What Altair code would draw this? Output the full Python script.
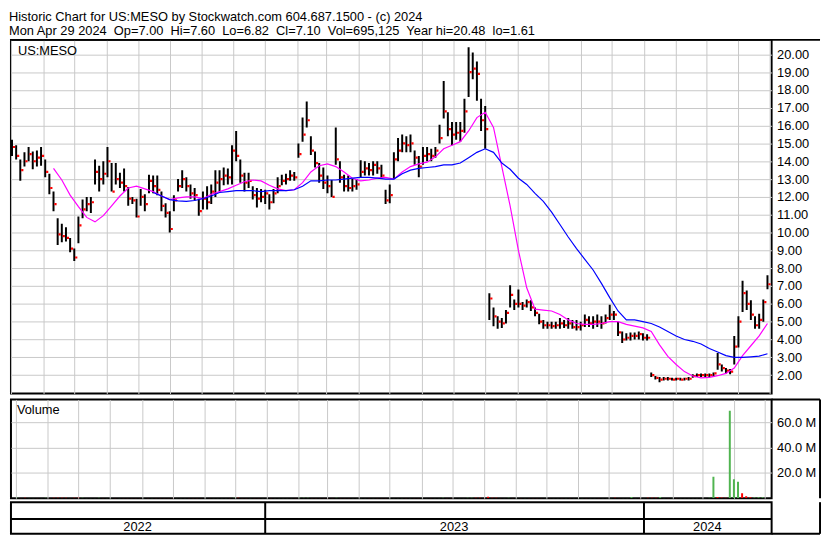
import altair as alt
import pandas as pd

# ---------------- data ----------------
TITLE_1 = "Historic Chart for US:MESO by Stockwatch.com 604.687.1500 - (c) 2024"
TITLE_2 = ("Mon Apr 29 2024\u00a0 Op=7.00\u00a0 Hi=7.60\u00a0 Lo=6.82\u00a0 Cl=7.10\u00a0 "
           "Vol=695,125\u00a0 Year hi=20.48\u00a0 lo=1.61")
SYMBOL = "US:MESO"

BAR_START = "2022-05-02"
BAR_STEP_DAYS = 4

HIGH = [15.2, 14.9, 14.1, 14.5, 14.8, 14.55, 14.6, 14.8, 14.1, 13.3,
        12.3, 10.8, 10.5, 10.3, 9.7, 9.1, 10.9, 11.85, 12.0, 12.0,
        14.1, 13.75, 14.0, 14.8, 13.9, 13.9, 13.35, 13.6, 12.55, 12.0,
        11.9, 12.45, 12.15, 13.25, 13.2, 13.2, 12.3, 11.65, 11.2, 12.1,
        13.0, 13.5, 13.1, 12.7, 12.5, 11.9, 12.3, 12.6, 12.7, 13.5,
        13.5, 13.65, 13.6, 14.9, 15.7, 14.1, 13.35, 13.35, 12.6, 12.5,
        12.45, 12.4, 12.15, 12.45, 13.1, 13.25, 13.3, 13.5, 13.4, 15.0,
        16.45, 17.35, 15.4, 14.55, 13.9, 13.65, 13.2, 12.95, 15.9, 14.0,
        13.25, 13.2, 13.0, 13.0, 14.05, 14.0, 13.9, 14.0, 14.0, 13.8,
        12.4, 12.7, 14.5, 15.3, 15.5, 15.4, 15.5, 14.6, 14.3, 14.8,
        14.8, 14.7, 14.8, 16.05, 18.5, 16.75, 16.2, 16.2, 16.2, 17.5,
        20.4, 20.1, 19.6, 17.5, 17.1, 6.6, 5.8, 5.3, 5.2, 5.65,
        7.05, 6.25, 6.8, 6.1, 6.25, 6.2, 5.8, 5.45, 5.1, 5.0,
        5.0, 5.0, 5.2, 5.1, 5.2, 5.1, 5.1, 5.0, 5.4, 5.3,
        5.3, 5.4, 5.3, 5.4, 5.95, 5.6, 5.0, 4.45, 4.35, 4.4,
        4.4, 4.45, 4.35, 4.3, 2.15, 1.95, 1.9, 1.9, 1.9, 1.85,
        1.85, 1.85, 1.85, 1.9, 2.05, 2.1, 2.1, 2.1, 2.1, 2.15,
        3.25, 2.6, 2.4, 2.35, 4.2, 5.3, 7.3, 6.75, 6.2, 5.3,
        5.45, 6.25, 7.6]

LOW = [14.3, 14.1, 12.9, 13.7, 14.0, 13.55, 13.7, 13.75, 13.1, 12.15,
       11.2, 9.3, 9.45, 9.5, 8.9, 8.4, 9.4, 10.8, 11.2, 11.1,
       12.7, 12.3, 12.7, 13.1, 12.3, 12.7, 12.5, 12.3, 11.5, 11.6,
       10.85, 11.5, 11.2, 12.2, 12.2, 12.1, 11.2, 10.85, 10.0, 11.2,
       12.3, 12.5, 12.3, 11.9, 11.8, 10.95, 11.3, 11.3, 11.6, 12.0,
       12.3, 12.65, 12.7, 12.7, 14.0, 12.8, 12.3, 12.5, 11.85, 11.4,
       11.7, 11.6, 11.3, 11.65, 12.2, 12.65, 12.7, 12.9, 12.9, 14.2,
       15.1, 15.9, 14.35, 13.65, 12.8, 12.45, 12.2, 12.0, 13.8, 12.8,
       12.3, 12.3, 12.3, 12.4, 13.1, 13.2, 13.2, 13.2, 13.3, 13.0,
       11.6, 11.65, 13.0, 14.0, 14.5, 14.5, 14.5, 13.8, 13.1, 13.8,
       14.0, 14.0, 14.2, 15.0, 16.4, 15.4, 14.9, 15.2, 15.1, 15.6,
       17.6, 18.6, 17.4, 15.7, 14.7, 5.1, 4.75, 4.6, 4.65, 4.9,
       5.8, 5.65, 5.8, 5.65, 5.8, 5.6, 5.3, 4.85, 4.6, 4.6,
       4.6, 4.6, 4.6, 4.65, 4.6, 4.6, 4.5, 4.5, 4.7, 4.7,
       4.6, 4.7, 4.6, 4.9, 5.1, 5.1, 4.2, 3.8, 3.95, 3.95,
       4.0, 4.0, 3.95, 3.95, 1.9, 1.75, 1.6, 1.7, 1.7, 1.7,
       1.7, 1.7, 1.7, 1.7, 1.85, 1.9, 1.9, 1.9, 1.9, 1.9,
       2.3, 2.2, 2.1, 2.05, 2.6, 3.55, 5.55, 5.65, 5.1, 4.6,
       4.6, 5.0, 6.82]

CLOSE = [14.8, 14.3, 13.5, 14.0, 14.4, 14.0, 14.2, 14.3, 13.4, 12.5,
         11.6, 9.9, 9.8, 9.7, 9.1, 8.6, 10.4, 11.3, 11.6, 11.7,
         13.4, 13.0, 13.3, 14.0, 12.3, 13.0, 12.8, 12.6, 11.9, 11.8,
         10.9, 12.0, 11.6, 12.9, 12.6, 12.4, 11.5, 11.1, 10.2, 11.8,
         12.6, 13.0, 12.6, 12.2, 12.1, 11.2, 11.9, 11.7, 12.3, 12.8,
         13.0, 13.2, 13.1, 14.6, 14.3, 13.2, 12.8, 12.9, 12.1, 11.9,
         12.0, 12.2, 11.7, 12.2, 12.6, 12.9, 13.0, 13.2, 13.1, 14.4,
         15.5, 16.3, 14.6, 13.9, 13.2, 12.8, 12.6, 12.0, 14.1, 13.1,
         12.6, 12.5, 12.6, 12.7, 13.4, 13.6, 13.5, 13.8, 13.6, 13.2,
         11.8, 12.1, 14.1, 14.6, 15.0, 14.9, 15.0, 14.2, 13.7, 14.3,
         14.4, 14.3, 14.6, 15.3, 16.8, 15.8, 15.5, 15.6, 15.7, 16.8,
         19.0, 19.2, 18.9, 16.3, 15.8, 6.3, 5.3, 5.0, 4.9, 5.5,
         6.5, 6.0, 6.0, 5.9, 6.1, 5.8, 5.5, 5.0, 4.8, 4.8,
         4.75, 4.8, 4.9, 4.8, 4.9, 4.7, 4.7, 4.8, 5.1, 4.9,
         5.0, 5.0, 4.9, 5.2, 5.4, 5.4, 4.4, 4.0, 4.1, 4.2,
         4.2, 4.3, 4.1, 4.1, 2.0, 1.85, 1.75, 1.8, 1.8, 1.75,
         1.8, 1.75, 1.8, 1.8, 1.95, 2.0, 2.0, 2.0, 2.0, 2.1,
         2.6, 2.4, 2.25, 2.2, 3.6, 5.0, 6.6, 6.0, 5.4, 4.8,
         5.1, 6.1, 7.1]

VOLUME_M = [0.3, 0.25, 0.3, 0.2, 0.25, 0.2, 0.2, 0.3, 0.25, 0.35,
            0.4, 0.45, 0.3, 0.25, 0.3, 0.35, 0.3, 0.25, 0.2, 0.2,
            0.3, 0.25, 0.2, 0.25, 0.2, 0.2, 0.15, 0.2, 0.2, 0.15,
            0.2, 0.2, 0.15, 0.2, 0.15, 0.15, 0.2, 0.15, 0.25, 0.2,
            0.15, 0.2, 0.15, 0.15, 0.15, 0.2, 0.15, 0.15, 0.15, 0.2,
            0.15, 0.2, 0.15, 0.3, 0.35, 0.2, 0.15, 0.15, 0.15, 0.15,
            0.15, 0.15, 0.15, 0.15, 0.15, 0.15, 0.15, 0.15, 0.15, 0.3,
            0.35, 0.4, 0.25, 0.2, 0.15, 0.15, 0.15, 0.15, 0.3, 0.2,
            0.15, 0.15, 0.15, 0.15, 0.2, 0.15, 0.15, 0.15, 0.15, 0.15,
            0.2, 0.15, 0.25, 0.2, 0.2, 0.15, 0.15, 0.15, 0.15, 0.15,
            0.15, 0.15, 0.15, 0.2, 0.35, 0.25, 0.2, 0.15, 0.15, 0.25,
            0.4, 0.3, 0.3, 0.3, 0.25, 1.2, 0.4, 0.3, 0.25, 0.25,
            0.3, 0.2, 0.2, 0.15, 0.15, 0.15, 0.15, 0.15, 0.15, 0.1,
            0.1, 0.1, 0.1, 0.1, 0.1, 0.1, 0.1, 0.1, 0.15, 0.1,
            0.1, 0.1, 0.1, 0.1, 0.15, 0.1, 0.3, 0.2, 0.15, 0.15,
            1.0, 0.15, 0.15, 0.15, 0.4, 0.3, 0.3, 1.0, 0.2, 0.15,
            0.15, 0.15, 0.15, 0.15, 0.2, 0.2, 0.15, 0.2, 0.2, 0.3,
            17.0, 1.0, 0.5, 0.4, 69.0, 15.0, 13.0, 4.0, 1.5, 0.8,
            0.6, 0.8, 0.7]

# moving averages, read every second bar
MA_STEP = 2
MA_FAST_FIRST = 10
MA_FAST = [13.6, 12.95, 12.1, 11.45, 10.85, 10.6, 10.95, 11.5, 12.05, 12.5,
           12.6, 12.45, 12.3, 12.05, 11.85, 11.95, 12.0, 12.0, 11.9, 12.15,
           12.3, 12.45, 12.65, 12.85, 12.95, 12.9, 12.65, 12.45, 12.35, 12.4,
           12.8, 13.4, 13.75, 13.85, 13.7, 13.4, 13.05, 12.9, 12.95, 13.05,
           13.1, 13.0, 13.4, 13.7, 13.85, 13.95, 14.25, 14.7, 14.9, 15.1,
           15.7, 16.45, 16.75, 15.9, 13.7, 11.5, 9.0, 6.9, 5.7, 5.65,
           5.6, 5.4, 5.1, 4.9, 4.85, 4.85, 4.9, 5.0, 5.0, 4.85,
           4.75, 4.65, 4.45, 3.7, 3.05, 2.6, 2.2, 1.95, 1.85, 1.88,
           1.97, 2.1, 2.4, 3.1, 3.65, 4.2, 4.9]
MA_SLOW_FIRST = 34
MA_SLOW = [12.25, 12.05, 11.85, 11.78, 11.75, 11.8, 11.9, 12.05, 12.25, 12.3,
           12.35, 12.35, 12.35, 12.3, 12.35, 12.35, 12.35, 12.4, 12.6, 12.9,
           12.9, 12.95, 12.95, 13.0, 13.05, 13.1, 13.1, 13.05, 13.0, 13.0,
           13.3, 13.5, 13.6, 13.65, 13.7, 13.8, 13.8, 13.9, 14.2, 14.5,
           14.7, 14.5, 13.9, 13.55, 13.05, 12.7, 12.2, 11.75, 11.15, 10.45,
           9.75, 9.1, 8.5, 7.9, 7.15, 6.35, 5.6, 5.1, 5.1, 5.0,
           4.9, 4.7, 4.45, 4.2, 4.0, 3.9, 3.75, 3.5, 3.3, 3.1,
           3.0, 3.0, 3.03, 3.07, 3.2]

YEAR_LABELS = ["2022", "2023", "2024"]
YEAR_BREAKS = ["2023-01-01", "2024-01-01"]
X_START = (2022, 5, 1)
X_END = (2024, 5, 3)
PRICE_DOMAIN = [0.97, 20.81]
PRICE_TICKS = [2, 3, 4, 5, 6, 7, 8, 9, 10, 11, 12, 13, 14, 15, 16, 17, 18, 19, 20]
VOL_DOMAIN = [0, 78e6]
VOL_TICKS = [20e6, 40e6, 60e6]

# ---------------- tables ----------------
FMT = "%Y-%m-%dT00:00:00"
dates = pd.date_range(BAR_START, periods=len(CLOSE), freq=f"{BAR_STEP_DAYS}D")
bars = pd.DataFrame({
    "date": [d.strftime(FMT) for d in dates],
    "high": HIGH, "low": LOW, "close": CLOSE,
    "vol": [v * 1e6 for v in VOLUME_M],
})
bars["dir"] = ["up" if i == 0 or CLOSE[i] >= CLOSE[i - 1] else "down" for i in range(len(CLOSE))]

fast = pd.DataFrame({"date": [d.strftime(FMT) for d in dates[MA_FAST_FIRST::MA_STEP][:len(MA_FAST)]],
                     "value": MA_FAST})
slow = pd.DataFrame({"date": [d.strftime(FMT) for d in dates[MA_SLOW_FIRST::MA_STEP][:len(MA_SLOW)]],
                     "value": MA_SLOW})

x0 = pd.Timestamp(*X_START)
x1 = pd.Timestamp(*X_END)
edges = [x0] + [pd.Timestamp(b) for b in YEAR_BREAKS] + [x1]
year_df = pd.DataFrame({
    "date": [(edges[k] + (edges[k + 1] - edges[k]) / 2).strftime(FMT) for k in range(len(YEAR_LABELS))],
    "label": YEAR_LABELS,
})
breaks_df = pd.DataFrame({"date": [pd.Timestamp(b).strftime(FMT) for b in YEAR_BREAKS]})

# ---------------- styling ----------------
W = 770
PRICE_H = 358
VOL_H = 100
BAND_H = 32
LABEL_W = 49
FONT = "Liberation Sans"
GRID = "#c8c8c8"
GREEN = "#50b450"

x_scale = alt.Scale(domain=[alt.DateTime(year=X_START[0], month=X_START[1], date=X_START[2]),
                            alt.DateTime(year=X_END[0], month=X_END[1], date=X_END[2])])
x_grid_axis = alt.Axis(title=None, labels=False, ticks=False, domain=False, grid=True,
                       gridColor=GRID, gridWidth=1, tickCount={"interval": "month", "step": 1})
price_scale = alt.Scale(domain=PRICE_DOMAIN, nice=False, zero=False)
price_axis = alt.Axis(orient="right", values=PRICE_TICKS, format=".2f", title=None, ticks=False,
                      domain=False, grid=True, gridColor=GRID, gridWidth=1, labelFont=FONT,
                      labelFontSize=13, labelColor="black", labelPadding=5, labelOverlap=False)

one = pd.DataFrame({"k": [0]})


def px(field):
    return alt.X(field, scale=x_scale, axis=x_grid_axis)


def py(field):
    return alt.Y(field, scale=price_scale, axis=price_axis)


hl = alt.Chart(bars).mark_rule(color="black", strokeWidth=2, clip=True).encode(
    x=px("date:T"), y=py("high:Q"), y2="low:Q")
cl = alt.Chart(bars).mark_square(color="red", size=5, opacity=1, xOffset=2, clip=True).encode(
    x=px("date:T"), y=py("close:Q"))
fast_line = alt.Chart(fast).mark_line(color="#ff00ff", strokeWidth=1.2, clip=True).encode(
    x=px("date:T"), y=py("value:Q"))
slow_line = alt.Chart(slow).mark_line(color="#0000ff", strokeWidth=1.2, clip=True).encode(
    x=px("date:T"), y=py("value:Q"))
sym = alt.Chart(pd.DataFrame({"t": [SYMBOL]})).mark_text(
    font=FONT, fontSize=13, color="black", align="left", baseline="middle").encode(
    x=alt.value(7), y=alt.value(11), text="t:N")
top_line = alt.Chart(one).mark_rule(color="black", strokeWidth=2).encode(
    x=alt.value(0), x2=alt.value(W + LABEL_W), y=alt.value(0))

price = alt.layer(hl, cl, fast_line, slow_line, sym, top_line).properties(width=W, height=PRICE_H)

vol_axis = alt.Axis(orient="right", values=VOL_TICKS,
                    labelExpr="format(datum.value / 1000000, '.1f') + ' M'",
                    title=None, ticks=False, domain=False, grid=True, gridColor=GRID, gridWidth=1,
                    labelFont=FONT, labelFontSize=13, labelColor="black", labelPadding=5)
vbars = alt.Chart(bars).mark_bar(size=2, clip=True).encode(
    x=px("date:T"),
    y=alt.Y("vol:Q", scale=alt.Scale(domain=VOL_DOMAIN, nice=False), axis=vol_axis),
    color=alt.Color("dir:N", scale=alt.Scale(domain=["up", "down"], range=[GREEN, "#ff0000"]),
                    legend=None),
)
vlabel = alt.Chart(pd.DataFrame({"t": ["Volume"]})).mark_text(
    font=FONT, fontSize=13, color="black", align="left", baseline="middle").encode(
    x=alt.value(6), y=alt.value(11), text="t:N")
frame_top = alt.Chart(one).mark_rule(color="black", strokeWidth=2).encode(
    x=alt.value(W), x2=alt.value(W + LABEL_W), y=alt.value(0))
frame_right = alt.Chart(one).mark_rule(color="black", strokeWidth=2).encode(
    x=alt.value(W + LABEL_W), y=alt.value(0), y2=alt.value(VOL_H))
volume = alt.layer(vbars, vlabel, frame_top, frame_right).properties(width=W, height=VOL_H)

seps = alt.Chart(breaks_df).mark_rule(color="black", strokeWidth=2).encode(
    x=alt.X("date:T", scale=x_scale, axis=None), y=alt.value(0), y2=alt.value(BAND_H))
mid = alt.Chart(one).mark_rule(color="black", strokeWidth=2).encode(
    x=alt.value(0), x2=alt.value(W), y=alt.value(17))
band_right = alt.Chart(one).mark_rule(color="black", strokeWidth=2).encode(
    x=alt.value(W + LABEL_W), y=alt.value(0), y2=alt.value(BAND_H))
band_bottom = alt.Chart(one).mark_rule(color="black", strokeWidth=2).encode(
    x=alt.value(W), x2=alt.value(W + LABEL_W), y=alt.value(BAND_H))
ytxt = alt.Chart(year_df).mark_text(font=FONT, fontSize=13, color="black", baseline="middle").encode(
    x=alt.X("date:T", scale=x_scale, axis=None), y=alt.value(25), text="label:N")
band = alt.layer(seps, mid, band_right, band_bottom, ytxt).properties(width=W, height=BAND_H)

chart = alt.vconcat(
    price,
    alt.vconcat(volume, band, spacing=0),
    spacing=3,
).properties(
    title=alt.TitleParams(text=[TITLE_1, TITLE_2], anchor="start", font=FONT, fontSize=13,
                          fontWeight="normal", color="black", lineHeight=14, offset=0),
    padding={"left": 1, "top": 0, "right": 0, "bottom": 0},
).configure_view(stroke="black", strokeWidth=2)

chart.save("out.html", embed_options={"renderer": "svg", "actions": False})
